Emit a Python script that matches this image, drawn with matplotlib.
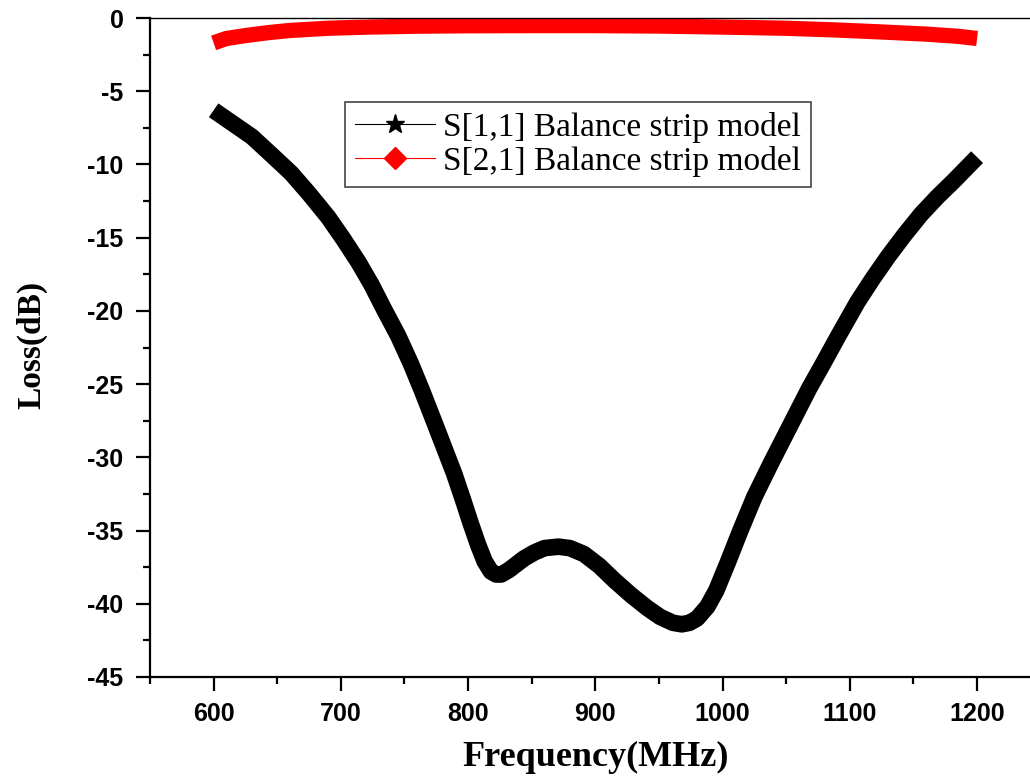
import matplotlib
matplotlib.use("Agg")
from matplotlib import pyplot as plt
from matplotlib.lines import Line2D
from matplotlib.ticker import MultipleLocator

# values
freq_s11 = [600, 615, 630, 645, 661, 675, 690, 702, 714, 724, 734, 745, 755,
            764, 773, 781, 789, 796, 802, 808, 813, 818, 822, 826, 832, 838,
            844, 852, 860, 871, 880, 891, 903, 915, 928, 941, 951, 961, 968,
            974, 980, 988, 995, 1004, 1014, 1025, 1038, 1048, 1058, 1068, 1079,
            1091, 1106, 1118, 1130, 1143, 1156, 1169, 1182, 1191, 1200]
loss_s11 = [-6.3, -7.2, -8.1, -9.3, -10.6, -12.0, -13.6, -15.1, -16.7, -18.2,
            -19.9, -21.7, -23.6, -25.5, -27.5, -29.3, -31.1, -32.9, -34.5,
            -36.0, -37.1, -37.8, -38.0, -38.0, -37.7, -37.3, -36.9, -36.5,
            -36.2, -36.1, -36.2, -36.6, -37.4, -38.4, -39.4, -40.3, -40.9,
            -41.3, -41.4, -41.3, -41.0, -40.2, -39.1, -37.2, -35.0, -32.7,
            -30.4, -28.7, -27.0, -25.3, -23.6, -21.7, -19.4, -17.8, -16.3,
            -14.8, -13.4, -12.2, -11.1, -10.3, -9.5]

freq_s21 = [600, 610, 625, 643, 660, 690, 722, 760, 800, 850, 900, 950, 1000,
            1050, 1090, 1124, 1160, 1185, 1200]
loss_s21 = [-1.7, -1.4, -1.2, -1.0, -0.85, -0.7, -0.62, -0.56, -0.53, -0.52,
            -0.52, -0.55, -0.62, -0.7, -0.82, -0.95, -1.1, -1.25, -1.4]

label_s11 = "S[1,1] Balance strip model"
label_s21 = "S[2,1] Balance strip model"

plt.rcParams["axes.unicode_minus"] = False

fig = plt.figure(figsize=(10.3, 7.76), dpi=100)
ax = fig.add_axes([150 / 1030, 1 - 677 / 776, 880 / 1030, (677 - 18) / 776])

ax.plot(freq_s21, loss_s21, color="#ff0000", lw=11, solid_capstyle="butt",
        solid_joinstyle="round")
ax.plot(freq_s11, loss_s11, color="black", lw=12, solid_capstyle="butt",
        solid_joinstyle="round")

ax.set_xlim(550, 1241.6)
ax.set_ylim(-45, 0)
ax.xaxis.set_major_locator(MultipleLocator(100))
ax.xaxis.set_minor_locator(MultipleLocator(50))
ax.yaxis.set_major_locator(MultipleLocator(5))
ax.yaxis.set_minor_locator(MultipleLocator(2.5))
ax.tick_params(which="major", direction="out", length=10, width=1.6)
ax.tick_params(which="minor", direction="out", length=5, width=1.6)
ax.tick_params(axis="x", pad=8)
ax.tick_params(axis="y", pad=9)

for lbl in ax.get_xticklabels() + ax.get_yticklabels():
    lbl.set_fontfamily("Liberation Sans")
    lbl.set_fontweight("bold")
    lbl.set_fontsize(18)

ax.spines["left"].set_linewidth(1.6)
ax.spines["bottom"].set_linewidth(1.6)
ax.spines["top"].set_linewidth(1.0)
ax.spines["right"].set_visible(False)

ax.set_xlabel("Frequency(MHz)", family="Liberation Serif", weight="bold", fontsize=26)
ax.set_ylabel("Loss(dB)", family="Liberation Serif", weight="bold", fontsize=24)
ax.xaxis.set_label_coords(0.506, -0.097)
ax.yaxis.set_label_coords(-0.117, 0.504)

handles = [
    Line2D([], [], color="black", lw=0.8, marker="*", markersize=14),
    Line2D([], [], color="#ff0000", lw=0.8, marker="D", markersize=11),
]
leg = ax.legend(handles, [label_s11, label_s21], loc="upper left",
                bbox_to_anchor=(345 / 1030, 1 - 102 / 776),
                bbox_transform=fig.transFigure, borderaxespad=0,
                prop={"family": "Liberation Serif", "size": 24},
                fancybox=False, edgecolor="#444444", framealpha=1,
                handlelength=2.4, handletextpad=0.25, labelspacing=0.08,
                borderpad=0.3)
leg.get_frame().set_linewidth(1.2)

fig.savefig("out.png", dpi=100)
